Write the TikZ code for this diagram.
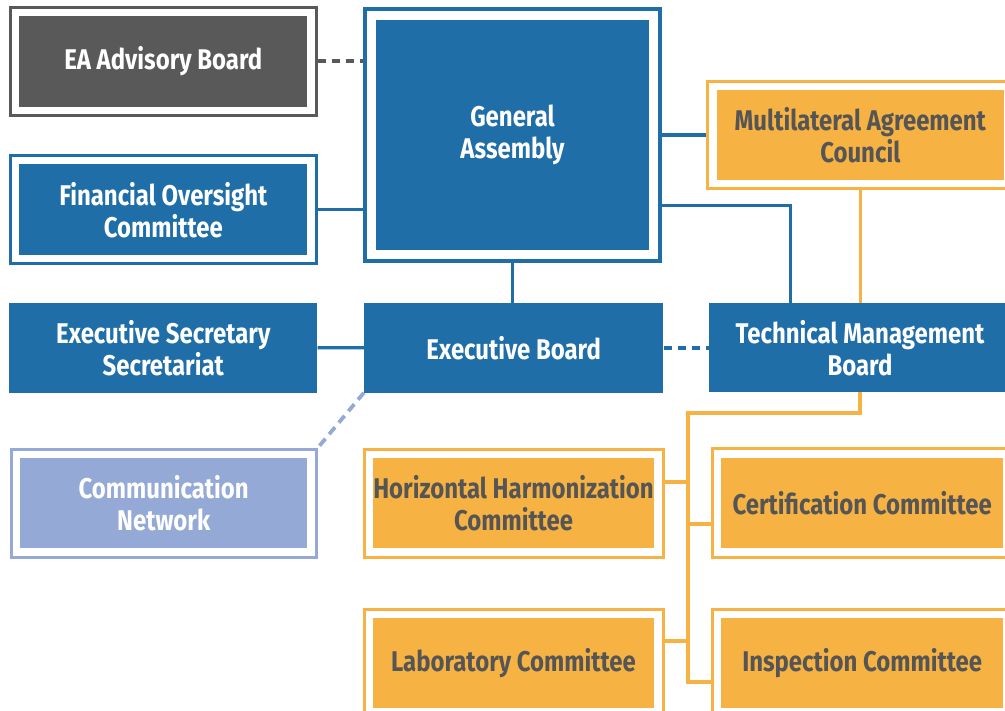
\documentclass[tikz,border=0pt]{standalone}
\usepackage{fontspec}
\setmainfont[FakeStretch=0.84]{Fira Sans}
\usetikzlibrary{fit}

\definecolor{eablue}{HTML}{1F6EA8}
\definecolor{eaorange}{HTML}{F6B243}
\definecolor{eagray}{HTML}{595959}
\definecolor{ealight}{HTML}{94A9D6}
\definecolor{eatext}{HTML}{555555}

\tikzset{
  box/.style={rectangle, inner sep=0pt, align=center,
    font=\fontsize{28.5}{32}\selectfont\bfseries},
  bluebox/.style={box, fill=eablue, text=white},
  graybox/.style={box, fill=eagray, text=white},
  lightbox/.style={box, fill=ealight, text=white},
  orangebox/.style={box, fill=eaorange, text=eatext},
  frame/.style={rectangle, draw=#1, line width=3pt, inner sep=8.5pt},
  bigframe/.style={rectangle, draw=#1, line width=4pt, inner sep=10.5pt},
  blueline/.style={draw=eablue, line width=3.2pt},
  orangeline/.style={draw=eaorange, line width=3.6pt},
  dashline/.style={line width=3.6pt, dash pattern=on 8pt off 6pt},
}

\begin{document}
\begin{tikzpicture}[x=1pt, y=-1pt]
  \useasboundingbox (0,0) rectangle (1005,711);
  \clip (0,0) rectangle (1005,711);

  % boxes
  \node[graybox, minimum width=288, minimum height=90.7] (ea) at (163.3,61.3) {EA Advisory Board};
  \node[bluebox, minimum width=288, minimum height=90.7] (foc) at (163.3,209.7) {Financial Oversight\\Committee};
  \node[bluebox, minimum width=273.6, minimum height=230] (ga) at (512.5,135) {General\\Assembly};
  \node[orangebox, minimum width=287.3, minimum height=90] (mac) at (860.3,135) {Multilateral Agreement\\Council};
  \node[bluebox, minimum width=308, minimum height=90] (ess) at (163.3,347.7) {Executive Secretary\\Secretariat};
  \node[bluebox, minimum width=299.3, minimum height=89.5] (eb) at (513.7,347.8) {Executive Board};
  \node[bluebox, minimum width=302, minimum height=89] (tmb) at (860,347.8) {Technical Management\\Board};
  \node[lightbox, minimum width=287.3, minimum height=90] (cn) at (163.7,503.3) {Communication\\Network};
  \node[orangebox, minimum width=281.6, minimum height=90] (hhc) at (513.5,503.3) {Horizontal Harmonization\\Committee};
  \node[orangebox, minimum width=282.3, minimum height=90.6] (cert) at (862.2,503) {Certification Committee};
  \node[orangebox, minimum width=281.6, minimum height=89.2] (lab) at (513.5,662.9) {Laboratory Committee};
  \node[orangebox, minimum width=282.3, minimum height=89.2] (insp) at (862.2,662.9) {Inspection Committee};

  % outer frames
  \node[frame=eagray, fit=(ea)] (eaF) {};
  \node[frame=eablue, fit=(foc)] (focF) {};
  \node[bigframe=eablue, fit=(ga)] (gaF) {};
  \node[frame=eaorange, fit=(mac)] (macF) {};
  \node[frame=ealight, fit=(cn)] (cnF) {};
  \node[frame=eaorange, fit=(hhc)] (hhcF) {};
  \node[frame=eaorange, fit=(cert)] (certF) {};
  \node[frame=eaorange, fit=(lab)] (labF) {};
  \node[frame=eaorange, fit=(insp)] (inspF) {};

  % connectors around the General Assembly
  \draw[dashline, draw=eagray] (eaF.east) -- (eaF.east -| gaF.west);
  \draw[blueline] (focF.east) -- (focF.east -| gaF.west);
  \draw[blueline] (macF.west) -- (macF.west -| gaF.east);
  \coordinate (j1) at (790.7,205.7);
  \draw[blueline] (j1 -| gaF.east) -- (j1) -- (j1 |- tmb.north);
  \draw[blueline] (gaF.south) -- (gaF.south |- eb.north);
  \draw[orangeline] (macF.south) -- (macF.south |- tmb.north);

  % executive row
  \draw[blueline] (ess.east) -- (eb.west);
  \draw[dashline, draw=eablue] (eb.east) -- (tmb.west);
  \draw[line width=3.8pt, dash pattern=on 9pt off 6pt, draw=ealight] (eb.south west) -- (cnF.north east);

  % committee tree under the Technical Management Board
  \coordinate (t1) at (688,413);
  \coordinate (hhcB) at ([yshift=21pt]hhcF.east);
  \coordinate (certB) at ([yshift=-21pt]certF.west);
  \coordinate (labB) at ([yshift=22pt]labF.east);
  \coordinate (inspB) at ([yshift=-19pt]inspF.west);
  \draw[orangeline] (tmb.south) |- (t1) |- (inspB);
  \draw[orangeline] (hhcB) -- (hhcB -| t1);
  \draw[orangeline] (certB) -- (certB -| t1);
  \draw[orangeline] (labB) -- (labB -| t1);
\end{tikzpicture}
\end{document}
